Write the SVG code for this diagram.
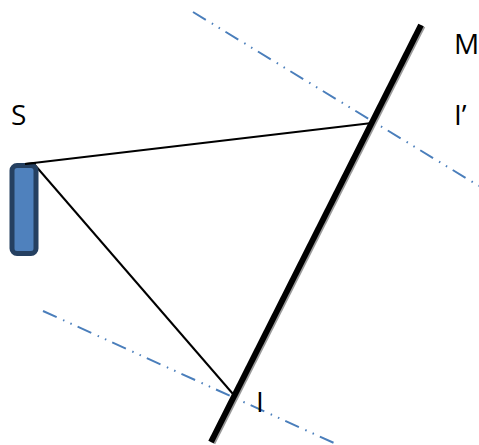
<svg xmlns="http://www.w3.org/2000/svg" width="479" height="445" viewBox="0 0 479 445">
<style>
.axis{fill:none;stroke:#4a7ebb;stroke-width:2;stroke-dasharray:15 7 1.500 6.500 1.500 6.500}
.ray{fill:none;stroke:#000;stroke-width:2}
.lbl{font-family:"Open Sans","Liberation Sans",sans-serif;font-size:28px;fill:#000}
</style>
<rect width="479" height="445" fill="#fff"/>
<g id="connectors">
<path class="axis" d="M193 12L479 186"/>
<path class="axis" d="M43 311L334 443"/>
<path class="ray" d="M25 164L372 123"/>
<path class="ray" d="M34 164L233 394"/>
</g>
<g id="mirror">
<path d="M422.500 26L212.500 443" fill="none" stroke="#999" stroke-width="6"/>
<path d="M421 25L211 442" fill="none" stroke="#000" stroke-width="6"/>
</g>
<g id="source">
<rect x="12" y="165.500" width="24" height="88" rx="5" fill="#4f81bd" stroke="#254061" stroke-width="5"/>
<path class="ray" d="M25 164L36 163"/>
</g>
<g id="label-s"><text class="lbl" x="11" y="125">S</text></g>
<g id="label-m"><text class="lbl" x="454" y="54">M</text></g>
<g id="label-i-prime"><text class="lbl" x="454" y="125">I’</text></g>
<g id="label-i"><text class="lbl" x="256" y="412">I</text></g>
</svg>
